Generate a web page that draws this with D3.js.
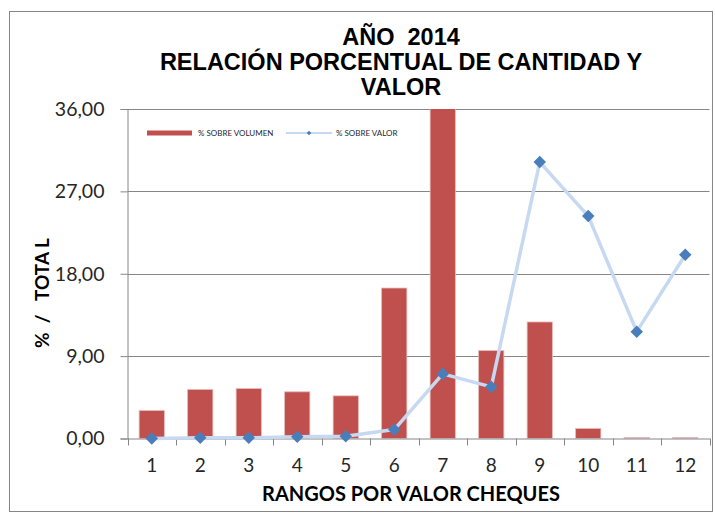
<!DOCTYPE html>
<html>
<head>
<meta charset="utf-8">
<script src="https://cdn.jsdelivr.net/npm/d3@7"></script>
<style>
  body { margin: 0; background: #fff; }
  svg { display: block; }
</style>
</head>
<body>
<div id="graphicContainer"></div>
<script>
var rangos = ["1", "2", "3", "4", "5", "6", "7", "8", "9", "10", "11", "12"];
var sobreVolumen = [3.05, 5.35, 5.45, 5.1, 4.66, 16.44, 36.8, 9.6, 12.73, 1.09, 0.1, 0.1];
var sobreValor = [0.0, 0.08, 0.08, 0.18, 0.25, 0.98, 7.06, 5.64, 30.2, 24.3, 11.67, 20.07];
var yTicks = [0, 9, 18, 27, 36];
var titleLines = ["AÑO  2014", "RELACIÓN PORCENTUAL DE CANTIDAD Y", "VALOR"];

var width = 715, height = 514;
var margin = {top: 109, right: 5.5, bottom: 75, left: 127.5};

var svg = d3.select("#graphicContainer").append("svg")
    .attr("width", width)
    .attr("height", height);

// outer frame
svg.append("rect")
    .attr("x", 9.5).attr("y", 11.5)
    .attr("width", 703).attr("height", 500)
    .attr("fill", "none")
    .attr("stroke", "#868686")
    .attr("stroke-width", 1);

var x = d3.scaleBand()
    .domain(rangos)
    .range([margin.left, width - margin.right])
    .paddingInner(0.48)
    .paddingOuter(0.24);

var y = d3.scaleLinear()
    .domain([0, 36])
    .range([height - margin.bottom - 0.5, margin.top]);

// title
svg.append("g").selectAll("text")
    .data(titleLines)
    .enter().append("text")
    .attr("x", 401)
    .attr("y", function(d, i) { return 45 + i * 25; })
    .attr("text-anchor", "middle")
    .attr("font-family", "Liberation Sans, Arial, sans-serif")
    .attr("font-weight", "bold")
    .attr("font-size", 23.5)
    .attr("fill", "#000")
    .style("white-space", "pre")
    .text(function(d) { return d; });

// gridlines
svg.append("g")
    .selectAll("line")
    .data(yTicks.slice(1))
    .enter().append("line")
    .attr("x1", margin.left).attr("x2", width - margin.right)
    .attr("y1", function(d) { return Math.round(y(d)) + 0.5; })
    .attr("y2", function(d) { return Math.round(y(d)) + 0.5; })
    .attr("stroke", "#868686");

svg.append("clipPath").attr("id", "plotClip")
    .append("rect")
    .attr("x", margin.left).attr("y", margin.top)
    .attr("width", width - margin.right - margin.left)
    .attr("height", y(0) - margin.top);

// bars
svg.append("g")
    .attr("clip-path", "url(#plotClip)")
    .selectAll("rect")
    .data(sobreVolumen)
    .enter().append("rect")
    .attr("x", function(d, i) { return x(rangos[i]); })
    .attr("width", x.bandwidth())
    .attr("y", function(d) { return y(d); })
    .attr("height", function(d) { return y(0) - y(d); })
    .attr("fill", "#c0504d")
    .attr("stroke", "#e6b9b8")
    .attr("stroke-width", 0.8);

// y axis
var yAxis = svg.append("g")
    .attr("transform", "translate(" + margin.left + ",0)")
    .call(d3.axisLeft(y).tickValues(yTicks).tickSize(7).tickPadding(16)
        .tickFormat(function(d) { return d3.format(".2f")(d).replace(".", ","); }));
yAxis.select(".domain").attr("stroke", "#868686");
yAxis.selectAll(".tick line").attr("stroke", "#868686");
yAxis.selectAll("text")
    .attr("font-family", "Lato, sans-serif")
    .attr("font-size", 19.5)
    .attr("fill", "#262626");

// x axis
var xAxis = svg.append("g")
    .attr("transform", "translate(0," + y(0) + ")")
    .call(d3.axisBottom(x).tickSize(0).tickPadding(20));
xAxis.select(".domain").attr("stroke", "#868686");
xAxis.selectAll("text")
    .attr("font-family", "Lato, sans-serif")
    .attr("font-size", 19)
    .attr("fill", "#262626");

var step = x.step();
svg.append("g")
    .selectAll("line")
    .data(d3.range(rangos.length + 1))
    .enter().append("line")
    .attr("x1", function(d) { return Math.round(margin.left + d * step) + 0.5; })
    .attr("x2", function(d) { return Math.round(margin.left + d * step) + 0.5; })
    .attr("y1", y(0))
    .attr("y2", y(0) + 7)
    .attr("stroke", "#868686");

// value line
var line = d3.line()
    .x(function(d, i) { return x(rangos[i]) + x.bandwidth() / 2; })
    .y(function(d) { return y(d); });

svg.append("path")
    .datum(sobreValor)
    .attr("d", line)
    .attr("fill", "none")
    .attr("stroke", "#c6d9f1")
    .attr("stroke-width", 3.5)
    .attr("stroke-linejoin", "round");

var diamond = d3.symbol().type(d3.symbolDiamond2).size(100);
svg.append("g")
    .selectAll("path")
    .data(sobreValor)
    .enter().append("path")
    .attr("transform", function(d, i) {
        return "translate(" + (x(rangos[i]) + x.bandwidth() / 2) + "," + y(d) + ")";
    })
    .attr("d", diamond)
    .attr("fill", "#4a7ebb");

// axis titles
svg.append("text")
    .attr("x", 411)
    .attr("y", 501)
    .attr("text-anchor", "middle")
    .attr("font-family", "Lato, sans-serif")
    .attr("font-weight", "bold")
    .attr("font-size", 20)
    .attr("fill", "#000")
    .text("RANGOS POR VALOR CHEQUES");

svg.append("text")
    .attr("transform", "translate(49,293) rotate(-90)")
    .attr("text-anchor", "middle")
    .attr("font-family", "Lato, sans-serif")
    .attr("font-weight", "bold")
    .attr("font-size", 19)
    .attr("fill", "#000")
    .style("white-space", "pre")
    .text("%  /   TOTA L");

// legend
var legend = svg.append("g");
legend.append("rect")
    .attr("x", 147).attr("y", 130.5)
    .attr("width", 45).attr("height", 5)
    .attr("fill", "#c0504d");
legend.append("text")
    .attr("x", 198).attr("y", 136)
    .attr("font-family", "Lato, sans-serif")
    .attr("font-size", 8)
    .attr("fill", "#262626")
    .text("% SOBRE VOLUMEN");
legend.append("line")
    .attr("x1", 286).attr("x2", 332)
    .attr("y1", 133).attr("y2", 133)
    .attr("stroke", "#c6d9f1")
    .attr("stroke-width", 2);
legend.append("path")
    .attr("transform", "translate(309,133)")
    .attr("d", d3.symbol().type(d3.symbolDiamond2).size(14))
    .attr("fill", "#4a7ebb");
legend.append("text")
    .attr("x", 336).attr("y", 136)
    .attr("font-family", "Lato, sans-serif")
    .attr("font-size", 8)
    .attr("fill", "#262626")
    .text("% SOBRE VALOR");
</script>
</body>
</html>
